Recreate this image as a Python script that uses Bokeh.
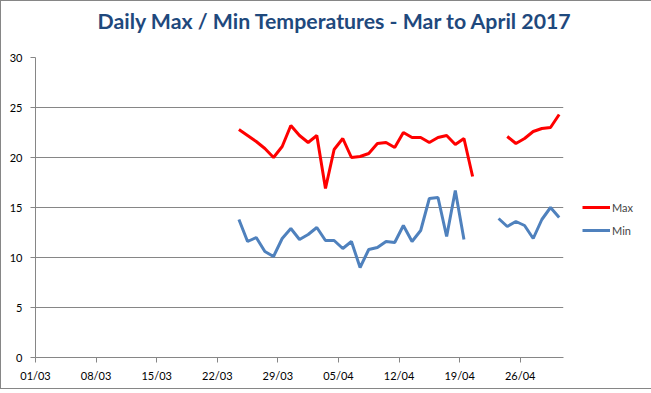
import pandas as pd
import numpy as np
from bokeh.plotting import figure
from bokeh.models import FixedTicker, Legend, LegendItem, ColumnDataSource, Title
from bokeh.embed import file_html
from bokeh.resources import INLINE

# ---- data ----
start_date = "2017-03-01"
end_date = "2017-05-01"
dates = pd.date_range("2017-03-24", "2017-04-30").strftime("%Y-%m-%d").tolist()
max_temp = [22.8, 22.2, 21.6, 20.9, 20.0, 21.1, 23.2, 22.2, 21.5, 22.2,
            16.9, 20.8, 21.9, 20.0, 20.1, 20.4, 21.4, 21.5, 21.0, 22.5,
            22.0, 22.0, 21.5, 22.0, 22.2, 21.3, 21.9, 18.1, None, None,
            None, 22.1, 21.4, 21.9, 22.6, 22.9, 23.0, 24.3]
min_temp = [13.8, 11.6, 12.0, 10.6, 10.1, 11.9, 12.9, 11.8, 12.3, 13.0,
            11.7, 11.7, 10.9, 11.6, 9.0, 10.8, 11.0, 11.6, 11.5, 13.2,
            11.6, 12.7, 15.9, 16.0, 12.1, 16.7, 11.8, None, None, None,
            13.9, 13.1, 13.6, 13.2, 11.9, 13.8, 15.0, 14.0]
tick_labels = ["01/03", "08/03", "15/03", "22/03", "29/03", "05/04",
               "12/04", "19/04", "26/04"]
y_ticks = [0, 5, 10, 15, 20, 25, 30]
title_text = "Daily Max / Min Temperatures - Mar to April 2017"

# ---- derived ----
t0 = pd.Timestamp(start_date)
days = [(pd.Timestamp(d) - t0).days + 0.5 for d in dates]  # points centred on the day
total_days = (pd.Timestamp(end_date) - t0).days
tick_pos = [(pd.Timestamp("2017-" + l[3:] + "-" + l[:2]) - t0).days for l in tick_labels]

src = ColumnDataSource(dict(
    x=days,
    mx=[np.nan if v is None else v for v in max_temp],
    mn=[np.nan if v is None else v for v in min_temp],
))

FONT = "Lato"
GREY = "#868686"

p = figure(output_backend="svg", toolbar_location=None, title=None,
           x_range=(0, total_days), y_range=(0, 30),
           frame_width=528, frame_height=300,
           min_border_left=34, min_border_top=56, min_border_right=85,
           min_border_bottom=31)
p.styles = {"border": "1px solid #868686"}

# spacer between the title and the plot frame (closest to the frame)
p.add_layout(Title(text=" ", text_font_size="1px", standoff=21), "above")
p.add_layout(Title(text=title_text, align="left", offset=62, standoff=0,
                   text_font=FONT, text_font_size="21.3px",
                   text_font_style="bold", text_color="#1F497D"), "above")

p.outline_line_color = None
p.xgrid.grid_line_color = None
p.ygrid.grid_line_color = GREY
p.ygrid.grid_line_width = 1

p.xaxis.ticker = FixedTicker(ticks=tick_pos)
p.xaxis.major_label_overrides = {t: l for t, l in zip(tick_pos, tick_labels)}
p.yaxis.ticker = FixedTicker(ticks=y_ticks)
for ax in (p.xaxis, p.yaxis):
    ax.axis_line_color = GREY
    ax.major_tick_line_color = GREY
    ax.major_tick_out = 5
    ax.major_tick_in = 0
    ax.minor_tick_line_color = None
    ax.major_label_text_font = FONT
    ax.major_label_text_font_size = "11px"
    ax.major_label_text_color = "#000000"
p.yaxis.major_label_standoff = 8
p.xaxis.major_label_standoff = 6

r_max = p.line("x", "mx", source=src, line_color="#FF0000", line_width=3)
r_min = p.line("x", "mn", source=src, line_color="#4F81BD", line_width=3)
# invisible spacer entry so that the two real entries sit where the reference has them
r_gap = p.line(x=[], y=[], line_alpha=0)

legend = Legend(items=[LegendItem(label=" ", renderers=[r_gap]),
                       LegendItem(label="Max", renderers=[r_max]),
                       LegendItem(label="Min", renderers=[r_min])],
                location="left", margin=19, padding=0, spacing=3,
                glyph_width=28, glyph_height=20, label_standoff=2,
                label_text_font=FONT, label_text_font_size="11px",
                border_line_color=None, background_fill_alpha=0)
p.add_layout(legend, "right")

open("out.html", "w").write(file_html(p, INLINE))
